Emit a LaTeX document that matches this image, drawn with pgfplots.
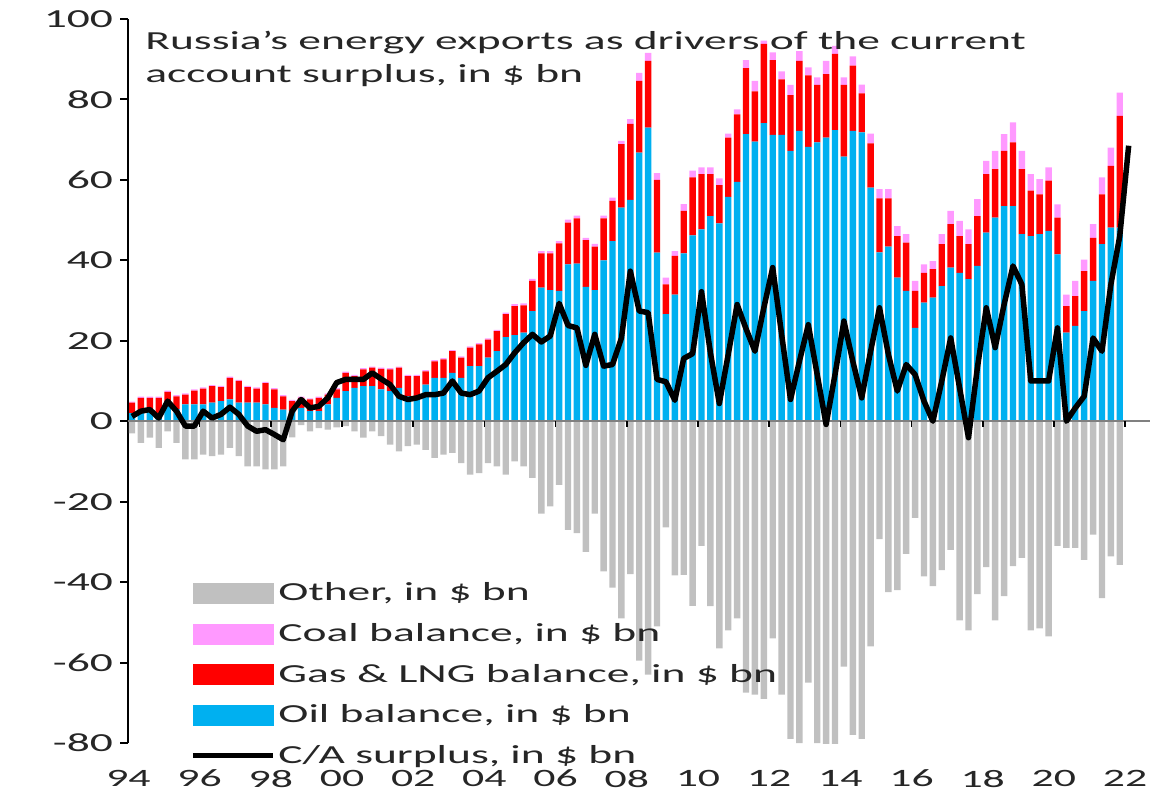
\documentclass[border=0pt]{standalone}
\usepackage{fontspec}
\setmainfont{Carlito}[FakeStretch=1.75]
\usepackage{pgfplots}
\usepackage{pgfplotstable}
\pgfplotsset{compat=1.18}
\definecolor{oilc}{HTML}{00B0F0}
\definecolor{gasc}{HTML}{FF0000}
\definecolor{coalc}{HTML}{FF99FF}
\definecolor{othc}{HTML}{C0C0C0}
\definecolor{txt}{HTML}{262626}

% quarterly, i = 0 is 1994 Q1, i = 111 is 2021 Q4
\pgfplotstableread{
i oil gas coal other
0 2.0 2.6 0.3 -3.0
1 2.0 3.8 0.3 -5.4
2 2.5 3.3 0.3 -4.1
3 2.0 3.8 0.3 -6.6
4 4.5 2.8 0.3 -2.5
5 3.0 3.2 0.3 -5.4
6 4.2 2.4 0.3 -9.5
7 4.2 3.4 0.3 -9.5
8 4.2 3.9 0.3 -8.3
9 4.6 4.1 0.3 -8.7
10 5.0 3.5 0.3 -8.3
11 5.4 5.4 0.3 -6.6
12 4.6 5.4 0.3 -8.7
13 4.6 3.9 0.3 -11.2
14 4.6 3.5 0.3 -11.2
15 4.2 5.3 0.3 -12.0
16 3.3 4.6 0.3 -12.0
17 2.9 3.3 0.3 -11.2
18 2.5 2.5 0.3 -4.0
19 3.3 2.5 0.3 -1.0
20 2.5 2.9 0.3 -2.5
21 2.5 3.3 0.3 -1.7
22 4.2 2.4 0.3 -2.1
23 5.8 2.1 0.3 -1.5
24 7.5 4.5 0.3 -1.2
25 8.3 2.9 0.3 -2.5
26 8.7 4.2 0.3 -4.1
27 8.7 4.6 0.3 -2.5
28 7.9 5.1 0.3 -3.7
29 7.5 5.4 0.3 -5.8
30 8.3 5.0 0.3 -7.5
31 6.2 5.0 0.3 -6.2
32 6.2 5.0 0.3 -5.8
33 9.1 3.3 0.3 -7.1
34 10.8 4.1 0.3 -9.1
35 10.8 4.6 0.3 -8.3
36 12.0 5.4 0.3 -7.9
37 10.8 5.0 0.3 -10.4
38 13.7 4.6 0.3 -13.3
39 13.7 5.4 0.3 -12.9
40 15.8 4.5 0.3 -10.4
41 17.4 5.0 0.3 -11.2
42 20.9 5.7 0.4 -13.3
43 21.4 7.2 0.5 -10.0
44 22.0 6.8 0.5 -11.2
45 27.4 7.5 0.5 -14.1
46 33.2 8.5 0.6 -23.0
47 32.6 9.1 0.6 -21.2
48 32.4 11.8 0.6 -15.8
49 39.0 10.4 0.7 -27.0
50 39.2 11.2 0.7 -27.8
51 33.4 11.6 0.6 -32.5
52 32.6 10.8 0.7 -23.0
53 40.0 10.4 0.7 -37.3
54 44.8 10.0 0.8 -41.4
55 53.1 15.8 0.8 -49.0
56 55.0 18.9 1.2 -38.0
57 66.8 17.8 2.0 -59.5
58 73.0 16.6 2.0 -63.0
59 41.9 18.1 1.7 -51.0
60 26.6 7.4 1.7 -26.4
61 31.5 9.6 1.2 -38.3
62 41.7 10.6 1.7 -38.2
63 46.2 14.4 1.7 -45.9
64 47.7 13.7 1.7 -31.0
65 51.0 10.4 1.7 -46.0
66 49.2 9.5 1.7 -56.5
67 55.8 14.7 1.0 -52.0
68 59.5 16.8 1.2 -49.0
69 71.4 16.4 2.0 -67.5
70 69.5 12.5 2.6 -68.0
71 74.1 19.7 0.8 -69.0
72 71.2 18.6 1.9 -54.0
73 71.2 13.8 2.0 -68.0
74 67.2 13.9 2.5 -79.0
75 72.2 17.4 2.4 -80.0
76 68.2 17.8 2.0 -65.0
77 69.3 14.3 1.9 -80.0
78 70.5 15.8 3.3 -85.0
79 72.4 18.9 2.0 -82.0
80 65.8 17.8 1.9 -61.0
81 72.2 16.2 2.3 -78.0
82 71.8 9.7 2.2 -79.0
83 58.1 11.0 2.4 -56.0
84 42.0 13.4 2.3 -29.3
85 43.4 12.0 2.3 -42.5
86 35.7 10.3 2.5 -42.0
87 32.4 12.0 2.1 -33.0
88 23.2 9.2 2.5 -24.0
89 29.5 7.4 2.1 -38.6
90 30.7 7.1 2.0 -41.0
91 33.6 10.4 2.5 -37.0
92 38.2 10.8 3.3 -32.0
93 36.9 9.1 3.8 -49.5
94 35.3 8.7 3.7 -52.0
95 38.6 12.4 4.2 -43.0
96 46.9 14.5 3.3 -36.3
97 50.6 12.1 4.5 -49.5
98 53.5 13.7 4.2 -43.5
99 53.5 15.8 5.0 -36.0
100 46.5 16.2 4.5 -34.0
101 46.0 11.3 4.1 -52.0
102 46.5 9.9 3.8 -51.5
103 47.3 12.5 3.3 -53.5
104 41.5 9.1 3.3 -31.0
105 22.0 6.6 2.9 -31.5
106 23.7 7.4 3.8 -31.5
107 27.4 9.9 2.9 -34.5
108 34.9 10.7 3.4 -28.2
109 44.0 12.4 4.2 -44.0
110 48.1 15.4 4.5 -33.6
111 48.1 27.8 5.8 -35.7
}\bars

% C/A surplus, 1994 Q1 (i = 0) to 2022 Q1 (i = 112)
\pgfplotstableread{
i ca
0 1.2
1 2.5
2 2.9
3 0.8
4 5.0
5 2.5
6 -1.2
7 -1.2
8 2.5
9 0.8
10 1.7
11 3.5
12 1.7
13 -1.2
14 -2.5
15 -2.1
16 -3.3
17 -4.6
18 2.5
19 5.4
20 3.3
21 3.7
22 5.8
23 9.6
24 10.4
25 10.4
26 10.4
27 12.0
28 10.5
29 9.1
30 6.2
31 5.4
32 5.8
33 6.6
34 6.6
35 7.0
36 10.0
37 7.0
38 6.6
39 7.5
40 10.8
41 12.4
42 14.1
43 17.0
44 19.5
45 21.6
46 19.7
47 21.2
48 29.3
49 23.8
50 23.2
51 13.9
52 21.6
53 13.7
54 14.1
55 20.7
56 37.3
57 27.4
58 27.0
59 10.4
60 9.8
61 5.2
62 15.6
63 16.8
64 32.2
65 17.0
66 4.4
67 16.6
68 29.0
69 23.0
70 17.4
71 28.2
72 38.2
73 21.6
74 5.4
75 14.9
76 24.0
77 11.6
78 -0.8
79 11.6
80 24.9
81 14.9
82 5.8
83 17.4
84 28.2
85 16.6
86 7.5
87 14.1
88 11.6
89 5.0
90 0.0
91 10.0
92 20.7
93 8.3
94 -4.1
95 13.3
96 28.2
97 18.3
98 29.0
99 38.6
100 34.0
101 10.0
102 10.0
103 10.0
104 23.2
105 0.0
106 3.3
107 6.2
108 20.7
109 17.4
110 34.0
111 46.0
112 68.5
}\ca

\pgfplotsset{
  base/.style={
    at={(64pt,27pt)}, anchor=south west,
    width=511pt, height=362pt, scale only axis,
    xmin=-0.45, xmax=114.4, ymin=-80, ymax=100,
  }
}

\begin{document}
\begin{tikzpicture}
\useasboundingbox (0,0) rectangle (585pt,398.5pt);

% energy balances, stacked
\begin{axis}[base, hide axis, ybar stacked, bar width=0.72]
\addplot[fill=oilc, draw=none] table[x=i, y=oil] {\bars};
\addplot[fill=gasc, draw=none] table[x=i, y=gas] {\bars};
\addplot[fill=coalc, draw=none] table[x=i, y=coal] {\bars};
\end{axis}

% other, C/A line, axes and legend
\begin{axis}[base,
  axis y line*=left, axis x line*=bottom,
  x axis line style={draw=none},
  y axis line style={line width=1pt, black},
  xtick={-0.4,7.6,15.6,23.6,31.6,39.6,47.6,55.6,63.6,71.6,79.6,87.6,95.6,103.6,111.6},
  xticklabels={94,96,98,00,02,04,06,08,10,12,14,16,18,20,22},
  xtick style={draw=none},
  ytick={-80,-60,-40,-20,0,20,40,60,80,100},
  yticklabels={-80,-60,-40,-20,0,20,40,60,80,100},
  ytick style={line width=1pt, black},
  tick align=outside,
  major tick length=4pt,
  yticklabel style={font=\fontsize{13pt}{15pt}\selectfont, text=txt},
  xticklabel style={font=\fontsize{12.5pt}{15pt}\selectfont, text=txt, yshift=-6pt},
  legend cell align=left,
  legend style={at={(0.0607,0.226)}, anchor=north west, draw=none, fill=none,
    inner sep=0pt, row sep=6.8pt,
    font=\fontsize{13pt}{15pt}\selectfont, text=txt,
    nodes={inner sep=1.5pt}},
]
\addlegendimage{legend image code/.code={\fill[othc] (0pt,-5pt) rectangle (40pt,5pt);}}
\addlegendentry{Other, in \$ bn}
\addlegendimage{legend image code/.code={\fill[coalc] (0pt,-5pt) rectangle (40pt,5pt);}}
\addlegendentry{Coal balance, in \$ bn}
\addlegendimage{legend image code/.code={\fill[gasc] (0pt,-5pt) rectangle (40pt,5pt);}}
\addlegendentry{Gas \& LNG balance, in \$ bn}
\addlegendimage{legend image code/.code={\fill[oilc] (0pt,-5pt) rectangle (40pt,5pt);}}
\addlegendentry{Oil balance, in \$ bn}
\addlegendimage{legend image code/.code={\draw[black, line width=2.5pt] (0pt,0pt) -- (40pt,0pt);}}
\addlegendentry{C/A surplus, in \$ bn}

\addplot[ybar, bar width=0.72, bar shift=0pt, fill=othc, draw=none, forget plot]
  table[x=i, y=other] {\bars};
\draw[gray, line width=1pt] (axis cs:-0.45,0) -- (axis cs:114.4,0);
\pgfplotsinvokeforeach{7.6,15.6,23.6,31.6,39.6,47.6,55.6,63.6,71.6,79.6,87.6,95.6,103.6,111.6}{
  \draw[black, line width=0.8pt] (axis cs:#1,0) -- ++(0pt,-3pt);
}
\addplot[black, line width=2.75pt, line join=round, forget plot] table[x=i, y=ca] {\ca};
\end{axis}

\node[anchor=base west, inner sep=0pt, text=txt, font=\fontsize{13pt}{15pt}\selectfont]
  at (72.5pt,373.5pt) {Russia's energy exports as drivers of the current};
\node[anchor=base west, inner sep=0pt, text=txt, font=\fontsize{13pt}{15pt}\selectfont]
  at (72.5pt,357pt) {account surplus, in \$ bn};
\end{tikzpicture}
\end{document}
